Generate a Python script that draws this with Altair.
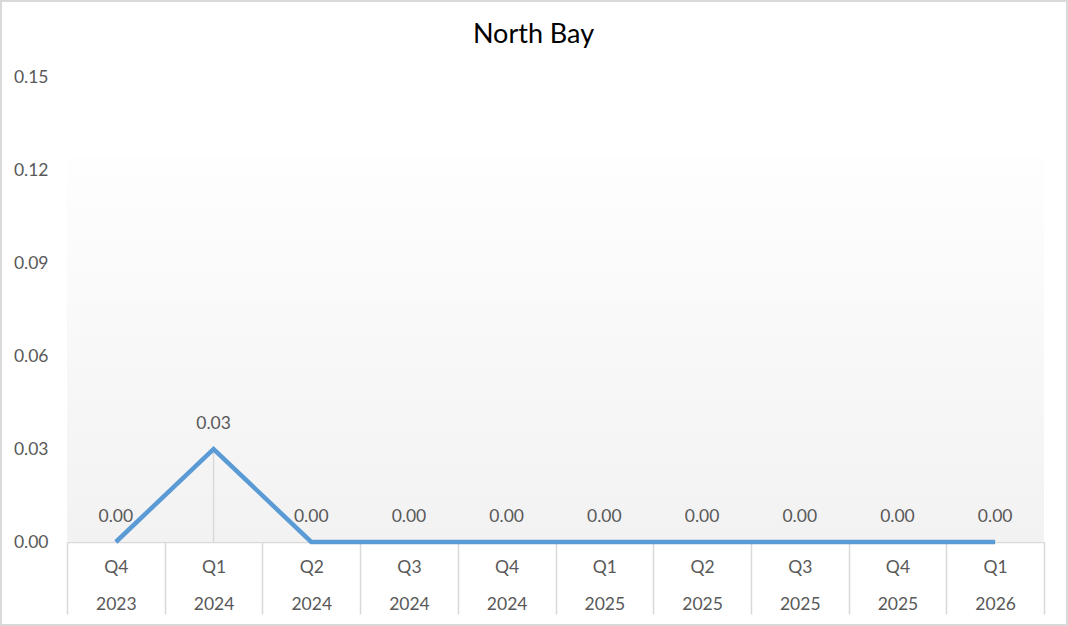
import altair as alt
import pandas as pd

quarters = ["Q4", "Q1", "Q2", "Q3", "Q4", "Q1", "Q2", "Q3", "Q4", "Q1"]
years = ["2023", "2024", "2024", "2024", "2024", "2025", "2025", "2025", "2025", "2026"]
values = [0.0, 0.03, 0.0, 0.0, 0.0, 0.0, 0.0, 0.0, 0.0, 0.0]
y_ticks = [0.0, 0.03, 0.06, 0.09, 0.12, 0.15]
title_text = "North Bay"

df = pd.DataFrame({
    "cat": [f"{q}\n{y}" for q, y in zip(quarters, years)],
    "value": values,
})
order = list(df["cat"])

W, H = 977, 465
FONT = "Lato"
FS = 17.5
GREY = "#595959"
LINE = "#d9d9d9"

x = alt.X("cat:N", sort=order, title=None,
          scale=alt.Scale(paddingInner=0, paddingOuter=0),
          axis=alt.Axis(labelAngle=0, labelFont=FONT, labelFontSize=FS, labelColor=GREY,
                        labelLineHeight=37, labelPadding=-47, labelBaseline="middle",
                        tickBand="extent", tickSize=72, tickColor=LINE, tickWidth=1.5,
                        domainColor=LINE, domainWidth=1.5, labelExpr="split(datum.label, '\\n')"))
y = alt.Y("value:Q", title=None,
          scale=alt.Scale(domain=[0, 0.15], nice=False),
          axis=alt.Axis(values=y_ticks, format=".2f", grid=False, domain=False, ticks=False,
                        labelFont=FONT, labelFontSize=FS, labelColor=GREY, labelPadding=19))

bg = alt.Chart(df).mark_rect(
    color=alt.Gradient(gradient="linear", x1=0, x2=0, y1=0, y2=1,
                       stops=[alt.GradientStop(color="#fefefe", offset=0),
                              alt.GradientStop(color="#f2f2f2", offset=1)])
).encode(x=alt.value(0), x2=alt.value(W), y=alt.value(80), y2=alt.value(H))

border = alt.Chart(df).mark_rect(fill=None, stroke=LINE, strokeWidth=2).encode(
    x=alt.value(-66), x2=alt.value(W + 23), y=alt.value(-76), y2=alt.value(H + 83))

title = alt.Chart(pd.DataFrame({"t": [title_text]})).mark_text(
    font=FONT, fontSize=27, color="#000000", baseline="alphabetic", align="center"
).encode(text="t:N", x=alt.value(W / 2 - 22), y=alt.value(-34))

drop = alt.Chart(df).mark_rule(color=LINE, strokeWidth=1.5).encode(
    x=x, y="value:Q", y2=alt.datum(0))

line = alt.Chart(df).mark_line(color="#5b9bd5", strokeWidth=4.5).encode(x=x, y=y)

labels = alt.Chart(df).mark_text(font=FONT, fontSize=FS, color=GREY, dy=-25).encode(
    x=x, y="value:Q", text=alt.Text("value:Q", format=".2f"))

chart = alt.layer(bg, border, title, drop, line, labels).properties(
    width=W, height=H,
    autosize=alt.AutoSizeParams(type="none"),
    padding={"left": 67, "top": 77, "right": 24, "bottom": 84},
    background="white",
).configure_view(stroke=None)

chart.save("out.html", embed_options={"renderer": "svg", "actions": False})
